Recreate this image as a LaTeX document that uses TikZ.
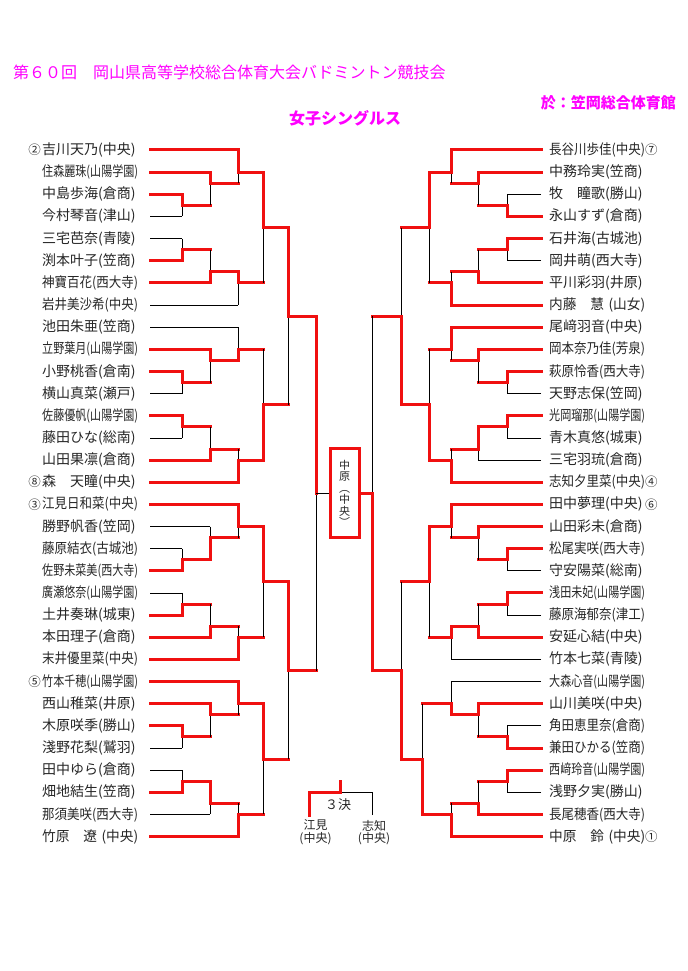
\documentclass[tikz,border=0pt]{standalone}
\usepackage{fontspec}
\usepackage{graphicx}
\setmainfont{Noto Sans CJK JP}
\definecolor{redline}{RGB}{240,16,16}
\definecolor{headpink}{RGB}{255,0,255}
\newsavebox\namebox
\newcommand\fitname[1]{\sbox\namebox{#1}\ifdim\wd\namebox>96pt\resizebox{96pt}{\height}{\usebox\namebox}\else\usebox\namebox\fi}
\tikzset{
   win/.style={draw=redline, line width=3pt, line cap=rect},
   lose/.style={draw=black, line width=0.8pt},
   player/.style={anchor=west, inner sep=0pt, text width=96pt, align=left,
      font=\fontsize{14}{16}\selectfont, text=black!85},
   seed/.style={inner sep=0pt, font=\fontsize{12.5}{14}\selectfont, text=black!85},
   head/.style={inner sep=0pt, text=headpink, font=\fontsize{16}{18}\selectfont},
   small/.style={inner sep=0pt, align=center, text=black!85, font=\fontsize{12}{10}\selectfont}
}
\begin{document}
\begin{tikzpicture}[x=1pt, y=-22.15pt]
   \useasboundingbox (0,-6.772) rectangle (688,37.066);
   \node[head, anchor=west] (title) at (13,-3.52) {第６０回　岡山県高等学校総合体育大会バドミントン競技会};
   \node[head, anchor=east, font=\fontsize{15}{17}\selectfont\bfseries] (venue) at (676,-2.12) {於：笠岡総合体育館};
   \node[head, font=\fontsize{16}{18}\selectfont\bfseries] (event) at (345,-1.445) {女子シングルス};
   \begin{scope}
      \def \Players {
         0/吉川天乃(中央)/238/win,
         1/住森麗珠(山陽学園)/210/win,
         2/中島歩海(倉商)/182/win,
         3/今村琴音(津山)/182/lose,
         4/三宅芭奈(青陵)/182/lose,
         5/渕本叶子(笠商)/182/win,
         6/神寶百花(西大寺)/210/win,
         7/岩井美沙希(中央)/238/lose,
         8/池田朱亜(笠商)/238/lose,
         9/立野葉月(山陽学園)/210/win,
         10/小野桃香(倉南)/182/win,
         11/横山真菜(瀬戸)/182/lose,
         12/佐藤優帆(山陽学園)/182/win,
         13/藤田ひな(総南)/182/lose,
         14/山田果凛(倉商)/210/win,
         15/森　天瞳(中央)/238/win,
         16/江見日和菜(中央)/238/win,
         17/勝野帆香(笠岡)/210/lose,
         18/藤原結衣(古城池)/182/lose,
         19/佐野未菜美(西大寺)/182/win,
         20/廣瀬悠奈(山陽学園)/182/lose,
         21/土井奏琳(城東)/182/win,
         22/本田理子(倉商)/210/win,
         23/末井優里菜(中央)/238/win,
         24/竹本千穂(山陽学園)/238/win,
         25/西山稚菜(井原)/210/win,
         26/木原咲季(勝山)/182/win,
         27/淺野花梨(鷲羽)/182/lose,
         28/田中ゆら(倉商)/182/lose,
         29/畑地結生(笠商)/182/win,
         30/那須美咲(西大寺)/210/lose,
         31/竹原　遼 (中央)/238/win}
      \def \Seeds {0/②, 15/⑧, 16/③, 24/⑤}
      \def \Matches {
         182/2/3/2.5/2/210, 210/1/2.5/1.5/1/238, 238/0/1.5/1/0/263,
         182/4/5/4.5/5/210, 210/4.5/6/5.5/6/238, 238/5.5/7/6/5.5/263,
         263/1/6/3.5/1/288,
         182/10/11/10.5/10/210, 210/9/10.5/9.5/9/238, 238/8/9.5/9/9.5/263,
         182/12/13/12.5/12/210, 210/12.5/14/13.5/14/238, 238/13.5/15/14/15/263,
         263/9/14/11.5/14/288,
         288/3.5/11.5/7.5/3.5/316,
         182/18/19/18.5/19/210, 210/17/18.5/17.5/18.5/238, 238/16/17.5/17/16/263,
         182/20/21/20.5/21/210, 210/20.5/22/21.5/22/238, 238/21.5/23/22/23/263,
         263/17/22/19.5/17/288,
         182/26/27/26.5/26/210, 210/25/26.5/25.5/25/238, 238/24/25.5/25/24/263,
         182/28/29/28.5/29/210, 210/28.5/30/29.5/28.5/238, 238/29.5/31/30/31/263,
         263/25/30/27.5/25/288,
         288/19.5/27.5/23.5/19.5/316}
      \foreach \r / \n / \e / \s in \Players {
         \node[player] (L\r) at (42,\r) {\fitname{\n}};
         \path[\s] ([xshift=12pt]L\r.east) -- (\e,\r);
      }
      \foreach \r / \s in \Seeds {
         \node[seed, anchor=east] (SL\r) at (41,\r) {\s};
      }
      \foreach \x / \a / \b / \o / \w / \n in \Matches {
         \path[lose] (\x,\a) -- (\x,\b);
         \path[win] (\x,\w) -- (\x,\o) -- (\n,\o);
      }
   \end{scope}
   \begin{scope}
      \def \Players {
         0/長谷川歩佳(中央)/451/win,
         1/中務玲実(笠商)/478/win,
         2/牧　瞳歌(勝山)/507/lose,
         3/永山すず(倉商)/507/win,
         4/石井海(古城池)/507/win,
         5/岡井萌(西大寺)/507/lose,
         6/平川彩羽(井原)/478/win,
         7/内藤　慧 (山女)/451/win,
         8/尾﨑羽音(中央)/451/win,
         9/岡本奈乃佳(芳泉)/478/win,
         10/萩原怜香(西大寺)/507/win,
         11/天野志保(笠岡)/507/lose,
         12/光岡瑠那(山陽学園)/507/win,
         13/青木真悠(城東)/507/lose,
         14/三宅羽琉(倉商)/478/lose,
         15/志知夕里菜(中央)/451/win,
         16/田中夢理(中央)/451/win,
         17/山田彩未(倉商)/478/win,
         18/松尾実咲(西大寺)/507/win,
         19/守安陽菜(総南)/507/lose,
         20/浅田未妃(山陽学園)/507/win,
         21/藤原海郁奈(津工)/507/lose,
         22/安延心結(中央)/478/win,
         23/竹本七菜(青陵)/451/lose,
         24/大森心音(山陽学園)/451/lose,
         25/山川美咲(中央)/478/win,
         26/角田恵里奈(倉商)/507/lose,
         27/兼田ひかる(笠商)/507/win,
         28/西﨑玲音(山陽学園)/507/win,
         29/浅野夕実(勝山)/507/lose,
         30/長尾穂香(西大寺)/478/win,
         31/中原　鈴 (中央)/451/win}
      \def \Seeds {0/⑦, 15/④, 16/⑥, 31/①}
      \def \Matches {
         507/2/3/2.5/3/478, 478/1/2.5/1.5/1/451, 451/0/1.5/1/0/429,
         507/4/5/4.5/4/478, 478/4.5/6/5.5/6/451, 451/5.5/7/6/7/429,
         429/1/6/3.5/1/401,
         507/10/11/10.5/10/478, 478/9/10.5/9.5/9/451, 451/8/9.5/9/8/429,
         507/12/13/12.5/12/478, 478/12.5/14/13.5/12.5/451, 451/13.5/15/14/15/429,
         429/9/14/11.5/14/401,
         401/3.5/11.5/7.5/11.5/372,
         507/18/19/18.5/18/478, 478/17/18.5/17.5/17/451, 451/16/17.5/17/16/429,
         507/20/21/20.5/20/478, 478/20.5/22/21.5/22/451, 451/21.5/23/22/21.5/429,
         429/17/22/19.5/17/401,
         507/26/27/26.5/27/478, 478/25/26.5/25.5/25/451, 451/24/25.5/25/25.5/422,
         507/28/29/28.5/28/478, 478/28.5/30/29.5/30/451, 451/29.5/31/30/31/422,
         422/25/30/27.5/30/401,
         401/19.5/27.5/23.5/27.5/372}
      \foreach \r / \n / \e / \s in \Players {
         \node[player] (R\r) at (549,\r) {\fitname{\n}};
         \path[\s] ([xshift=-8pt]R\r.west) -- (\e,\r);
      }
      \foreach \r / \s in \Seeds {
         \node[seed, anchor=west] (SR\r) at (645,\r) {\s};
      }
      \foreach \x / \a / \b / \o / \w / \n in \Matches {
         \path[lose] (\x,\a) -- (\x,\b);
         \path[win] (\x,\w) -- (\x,\o) -- (\n,\o);
      }
   \end{scope}
   % final
   \node[draw=redline, line width=3pt, minimum width=29pt, minimum height=89pt, inner sep=0pt,
      align=center, text=black!85, font=\fontsize{11}{11.5}\selectfont] (champ) at (344.5,15.5)
      {中\\原\\︵\\中\\央\\︶};
   \path[lose] (316,7.5) -- (316,23.5);
   \path[win] (316,7.5) -- (316,15.5);
   \path[lose] (316,15.5) -- (champ.west);
   \path[lose] (372,7.5) -- (372,23.5);
   \path[win] (372,23.5) -- (372,15.5) -- (champ.east);
   % third place
   \node[small] (thirdA) at (315.5,30.8) {江見\\(中央)};
   \node[small] (thirdB) at (374,30.8) {志知\\(中央)};
   \node[inner sep=0pt, text=black!85, font=\fontsize{13}{14}\selectfont] (third) at (338,29.57) {３決};
   \coordinate (tA) at (309,30.03);
   \coordinate (tB) at (372.7,30.03);
   \coordinate (tM) at (340.5,28.99);
   \path[lose] (tB) |- (tM);
   \path[win] (tA) |- (tM) -- (340.5,28.49);
\end{tikzpicture}
\end{document}
